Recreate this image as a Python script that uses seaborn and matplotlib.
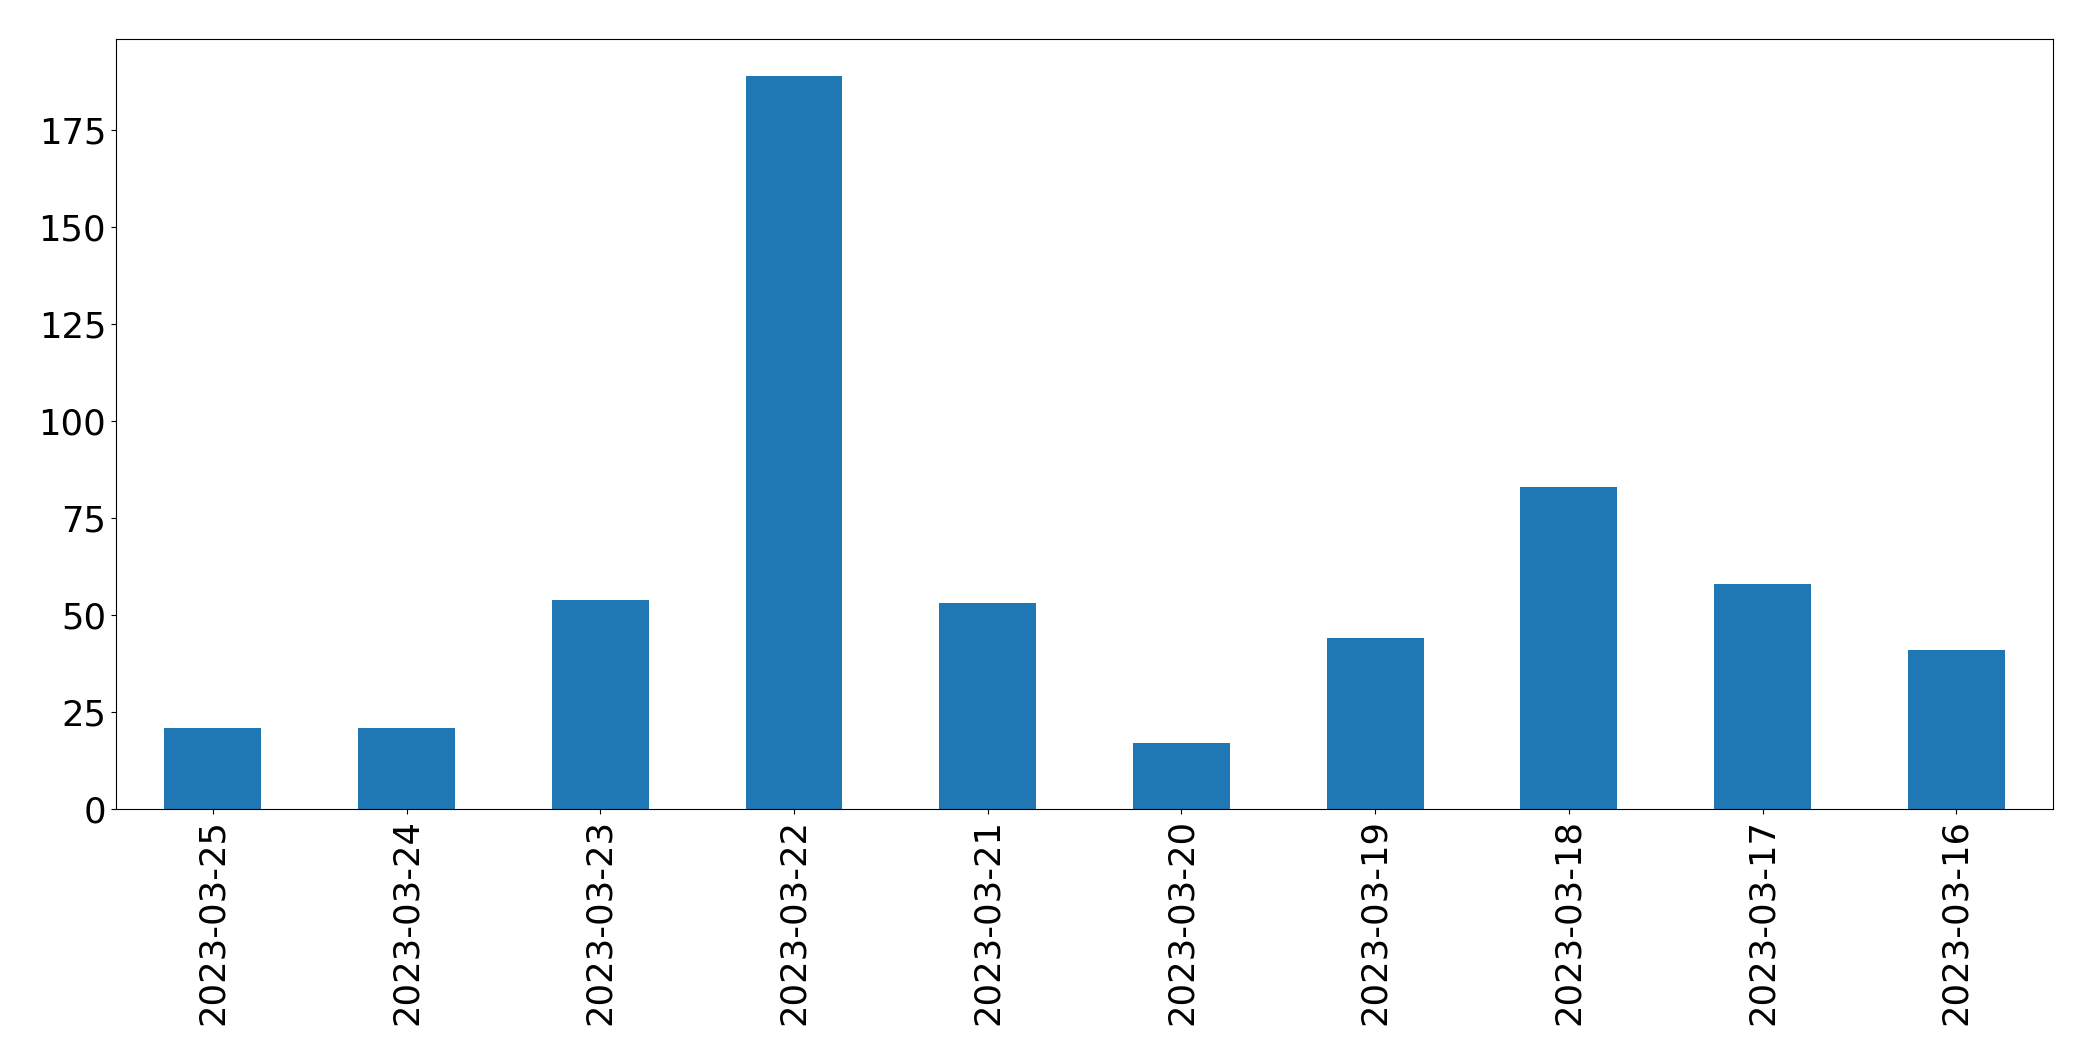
import matplotlib
matplotlib.use("Agg")
import matplotlib.pyplot as plt
import seaborn as sns
import pandas as pd

dates = ["2023-03-25", "2023-03-24", "2023-03-23", "2023-03-22", "2023-03-21",
         "2023-03-20", "2023-03-19", "2023-03-18", "2023-03-17", "2023-03-16"]
counts = [21, 21, 54, 189, 53, 17, 44, 83, 58, 41]

df = pd.DataFrame({"date": dates, "count": counts})

fig, ax = plt.subplots(figsize=(20.93, 10.61), dpi=100)
sns.barplot(data=df, x="date", y="count", order=dates, color="#1f77b4",
            saturation=1, width=0.5, linewidth=0, ax=ax)

ax.set_xlabel("")
ax.set_ylabel("")
ax.set_xlim(-0.5, len(dates) - 0.5)
ax.set_ylim(0, max(counts) * 1.05)
ax.tick_params(axis="both", labelsize=25.5)
plt.xticks(rotation=90)
for s in ax.spines.values():
    s.set_color("black")

fig.subplots_adjust(left=0.0554, right=0.981, top=0.963, bottom=0.2375)
fig.savefig("out.png", dpi=100)
plt.close(fig)
